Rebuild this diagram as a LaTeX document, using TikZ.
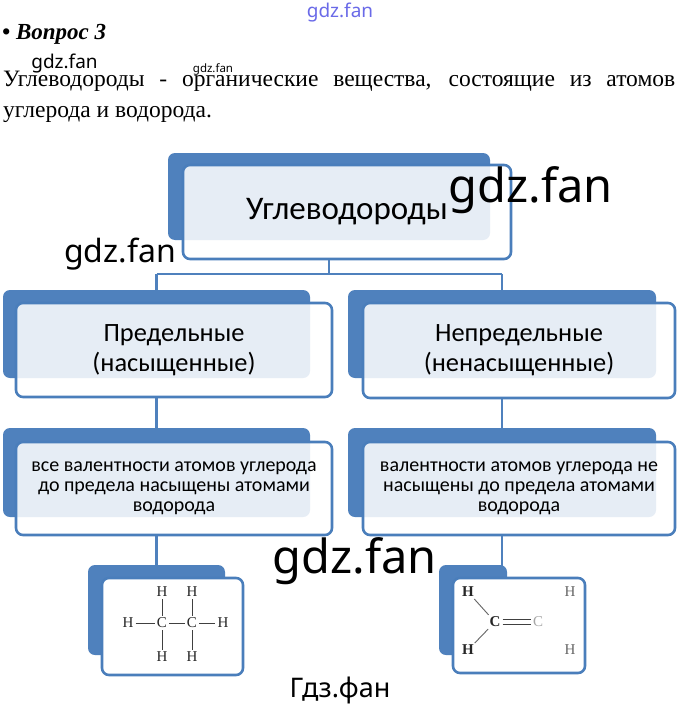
\documentclass[tikz,border=0pt]{standalone}
\usepackage{fontspec}
\setmainfont{Liberation Serif}
\newfontfamily\boxfont{Carlito}
\newfontfamily\wmfont{Noto Sans}
\definecolor{accblue}{HTML}{4F81BD}
\definecolor{edgeblue}{HTML}{4A7EBB}
\definecolor{wmblue}{HTML}{6A6AE8}
\begin{document}
\begin{tikzpicture}[x=1pt,y=-1pt,
  backbox/.style={fill=accblue, rounded corners=7pt, inner sep=0pt},
  frontbox/.style={draw=edgeblue, line width=2.6pt, fill=white, fill opacity=0.86, text opacity=1, rounded corners=7pt, inner sep=0pt, align=center},
  pastebox/.style={draw=edgeblue, line width=2.6pt, fill=white, rounded corners=7pt, inner sep=0pt},
  link/.style={draw=accblue, line width=2.8pt},
  atom/.style={font=\fontsize{15}{15}\selectfont, inner sep=1.5pt, text=black!85},
  fadeatom/.style={font=\fontsize{15}{15}\selectfont, inner sep=1.5pt, text=black!35},
  bond/.style={line width=0.9pt, black!75, shorten <=0.5pt, shorten >=0.5pt},
  wm/.style={font=\wmfont, inner sep=0pt},
  lvtwo/.style={font=\boxfont\fontsize{26.4}{30}\selectfont},
  lvthree/.style={font=\boxfont\fontsize{20}{20}\selectfont}
]
\useasboundingbox[fill=white] (0,0) rectangle (678,709);

% header texts
\node[anchor=west, inner sep=0pt, font=\fontsize{23}{26}\selectfont\bfseries\itshape] (q) at (2,34) {• Вопрос 3};
\node[anchor=base west, inner sep=0pt, font=\fontsize{23.5}{31}\selectfont] (p1) at (3,86)
  {\makebox[672pt][s]{Углеводороды - органические вещества, состоящие из атомов}};
\node[anchor=base west, inner sep=0pt, font=\fontsize{23.5}{31}\selectfont] (p2) at (3,117) {углерода и водорода.};

% level 1
\node[backbox, minimum width=322pt, minimum height=87pt] (tb) at (329,196.5) {};
\node[frontbox, minimum width=328pt, minimum height=94pt, font=\boxfont\fontsize{33}{38}\selectfont] (tf) at (347,212) {Углеводороды};

% level 2
\node[backbox, minimum width=307pt, minimum height=88pt] (lb2) at (156.5,334) {};
\node[frontbox, minimum width=316pt, minimum height=94pt, lvtwo] (lf2) at (174,350) {Предельные\\(насыщенные)};
\node[backbox, minimum width=308pt, minimum height=88pt] (rb2) at (502,334) {};
\node[frontbox, minimum width=312pt, minimum height=95pt, lvtwo] (rf2) at (519,350.5) {Непредельные\\(ненасыщенные)};

% level 3
\node[backbox, minimum width=307pt, minimum height=89pt] (lb3) at (156.5,472.5) {};
\node[frontbox, minimum width=316pt, minimum height=93pt, lvthree] (lf3) at (174,488.5)
  {все валентности атомов углерода\\до предела насыщены атомами\\водорода};
\node[backbox, minimum width=308pt, minimum height=89pt] (rb3) at (502,472.5) {};
\node[frontbox, minimum width=312pt, minimum height=93pt, lvthree] (rf3) at (519,488.5)
  {валентности атомов углерода не\\насыщены до предела атомами\\водорода};

% level 4
\node[backbox, minimum width=137pt, minimum height=90pt] (lb4) at (156.5,610) {};
\node[pastebox, minimum width=141pt, minimum height=97pt] (lf4) at (172.5,626.5) {};
\node[backbox, minimum width=68pt, minimum height=90pt] (rb4) at (473,610) {};
\node[pastebox, minimum width=132pt, minimum height=95pt] (rf4) at (519,625.5) {};

% connectors
\coordinate (j) at (329,274);
\coordinate (jl) at (lb2.north |- j);
\coordinate (jr) at (rb2.north |- j);
\coordinate (rend) at (502,572);
\draw[link] (tb.center |- tf.south) -- (j);
\draw[link] (jl) -- (jr);
\draw[link] (jl) -- (lb2.north);
\draw[link] (jr) -- (rb2.north);
\draw[link] (lb2.center |- lf2.south) -- (lb3.north);
\draw[link] (rb2.center |- rf2.south) -- (rb3.north);
\draw[link] (lb3.center |- lf3.south) -- (lb4.north);
\draw[link] (rb3.center |- rf3.south) -- (rend);

% ethane
\node[atom] (h1) at (128,623) {H};
\node[atom] (c1) at (162,623) {C};
\node[atom] (c2) at (192,623) {C};
\node[atom] (h2) at (223,623) {H};
\node[atom] (h3) at (162,592) {H};
\node[atom] (h4) at (192,592) {H};
\node[atom] (h5) at (162,657) {H};
\node[atom] (h6) at (192,657) {H};
\draw[bond] (h1) -- (c1);
\draw[bond] (c1) -- (c2);
\draw[bond] (c2) -- (h2);
\draw[bond] (h3) -- (c1);
\draw[bond] (h4) -- (c2);
\draw[bond] (c1) -- (h5);
\draw[bond] (c2) -- (h6);

% ethene
\node[atom, font=\fontsize{15}{15}\selectfont\bfseries] (rh1) at (468,592) {H};
\node[atom, font=\fontsize{15}{15}\selectfont\bfseries] (rc1) at (495,622) {C};
\node[atom, font=\fontsize{15}{15}\selectfont\bfseries] (rh2) at (468,650) {H};
\node[fadeatom] (rc2) at (538,622) {C};
\node[atom, text=black!60] (rh3) at (570,592) {H};
\node[atom, text=black!60] (rh4) at (570,650) {H};
\draw[bond, black!60] (rh1) -- (rc1);
\draw[bond, black!60] (rh2) -- (rc1);
\draw[bond] ([yshift=2.3pt]rc1.east) -- ([yshift=2.3pt]rc2.west);
\draw[bond] ([yshift=-2.3pt]rc1.east) -- ([yshift=-2.3pt]rc2.west);

% watermarks
\node[wm, text=wmblue, font=\wmfont\fontsize{19}{19}\selectfont] (w1) at (340,13) {gdz.fan};
\node[wm, font=\wmfont\fontsize{19}{19}\selectfont] (w2) at (64.5,64) {gdz.fan};
\node[wm, font=\wmfont\fontsize{11.5}{11.5}\selectfont] (w3) at (213,69) {gdz.fan};
\node[wm, font=\wmfont\fontsize{47}{47}\selectfont] (w4) at (531,190) {gdz.fan};
\node[wm, font=\wmfont\fontsize{32}{32}\selectfont] (w5) at (120,254) {gdz.fan};
\node[wm, font=\wmfont\fontsize{47}{47}\selectfont] (w6) at (355,561) {gdz.fan};
\node[wm, font=\wmfont\fontsize{27}{27}\selectfont] (w7) at (340,690) {Гдз.фан};
\end{tikzpicture}
\end{document}
